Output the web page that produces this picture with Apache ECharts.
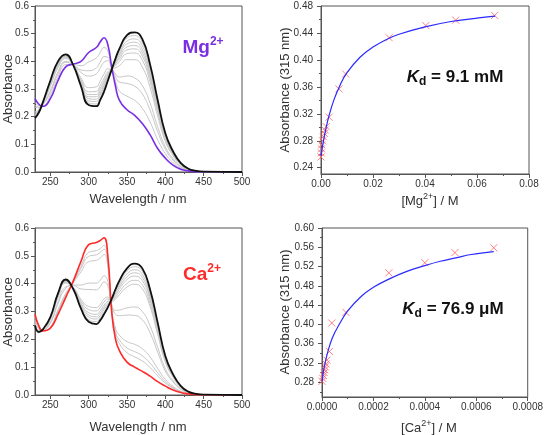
<!DOCTYPE html>
<html>
<head>
<meta charset="utf-8">
<script src="https://cdn.jsdelivr.net/npm/echarts@6/dist/echarts.min.js"></script>
<style>
  html, body { margin: 0; padding: 0; background: #fff; }
  #chart { width: 546px; height: 435px; }
</style>
</head>
<body>
<div id="chart"></div>
<script>
// ---- spectra (nm / absorbance) ----
const wavelengths = [230, 235, 240, 250, 260, 270, 280, 290, 300, 310, 315, 320, 325, 330, 335, 340, 350, 360, 370, 380, 390, 400, 410, 420, 430, 440, 450, 500]

const mgFree = [0.195, 0.215, 0.25, 0.33, 0.40, 0.425, 0.385, 0.31, 0.242, 0.238, 0.26, 0.29, 0.33, 0.37, 0.41, 0.445, 0.495, 0.505, 0.48, 0.39, 0.26, 0.14, 0.075, 0.033, 0.012, 0.004, 0.001, 0]
const mgBound = [0.265, 0.245, 0.237, 0.265, 0.33, 0.38, 0.39, 0.40, 0.432, 0.45, 0.47, 0.485, 0.46, 0.38, 0.31, 0.26, 0.225, 0.205, 0.175, 0.135, 0.085, 0.05, 0.025, 0.01, 0.004, 0.001, 0, 0]
const mgSteps = [
  [0.198, 0.216, 0.249, 0.327, 0.397, 0.423, 0.385, 0.314, 0.25, 0.246, 0.268, 0.298, 0.335, 0.37, 0.406, 0.438, 0.484, 0.493, 0.468, 0.38, 0.253, 0.136, 0.073, 0.032, 0.012, 0.004, 0.001, 0],
  [0.201, 0.217, 0.249, 0.325, 0.394, 0.421, 0.385, 0.317, 0.257, 0.255, 0.277, 0.306, 0.34, 0.371, 0.402, 0.43, 0.473, 0.481, 0.456, 0.37, 0.246, 0.133, 0.071, 0.031, 0.011, 0.004, 0.001, 0],
  [0.203, 0.219, 0.248, 0.322, 0.392, 0.42, 0.386, 0.321, 0.265, 0.263, 0.285, 0.313, 0.346, 0.371, 0.398, 0.423, 0.463, 0.469, 0.443, 0.359, 0.239, 0.129, 0.069, 0.03, 0.011, 0.004, 0.001, 0],
  [0.206, 0.22, 0.248, 0.32, 0.389, 0.418, 0.386, 0.324, 0.272, 0.272, 0.294, 0.321, 0.351, 0.372, 0.394, 0.415, 0.452, 0.457, 0.431, 0.349, 0.232, 0.126, 0.067, 0.029, 0.011, 0.004, 0.001, 0],
  [0.209, 0.221, 0.247, 0.317, 0.386, 0.416, 0.386, 0.328, 0.28, 0.28, 0.302, 0.329, 0.356, 0.372, 0.39, 0.408, 0.441, 0.445, 0.419, 0.339, 0.225, 0.122, 0.065, 0.028, 0.01, 0.003, 0.001, 0],
  [0.213, 0.223, 0.247, 0.314, 0.383, 0.414, 0.386, 0.333, 0.29, 0.291, 0.313, 0.339, 0.363, 0.373, 0.385, 0.399, 0.428, 0.43, 0.404, 0.326, 0.216, 0.118, 0.063, 0.027, 0.01, 0.003, 0.001, 0],
  [0.218, 0.225, 0.246, 0.309, 0.377, 0.41, 0.387, 0.34, 0.305, 0.308, 0.329, 0.354, 0.373, 0.373, 0.377, 0.384, 0.406, 0.406, 0.379, 0.306, 0.202, 0.11, 0.059, 0.025, 0.009, 0.003, 0.001, 0],
  [0.234, 0.232, 0.243, 0.294, 0.362, 0.40, 0.388, 0.36, 0.347, 0.355, 0.376, 0.397, 0.402, 0.376, 0.355, 0.343, 0.347, 0.34, 0.312, 0.25, 0.164, 0.091, 0.048, 0.02, 0.008, 0.002, 0, 0],
  [0.241, 0.235, 0.242, 0.288, 0.355, 0.396, 0.388, 0.369, 0.366, 0.376, 0.397, 0.417, 0.415, 0.377, 0.345, 0.325, 0.32, 0.31, 0.282, 0.224, 0.146, 0.082, 0.043, 0.018, 0.007, 0.002, 0, 0],
  [0.252, 0.24, 0.239, 0.277, 0.343, 0.388, 0.389, 0.384, 0.398, 0.412, 0.432, 0.45, 0.437, 0.378, 0.328, 0.293, 0.274, 0.259, 0.23, 0.181, 0.117, 0.066, 0.034, 0.014, 0.005, 0.001, 0, 0]
]

const caFree = [0.25, 0.226, 0.235, 0.28, 0.365, 0.415, 0.38, 0.31, 0.263, 0.255, 0.268, 0.29, 0.315, 0.345, 0.38, 0.41, 0.455, 0.472, 0.455, 0.38, 0.26, 0.14, 0.075, 0.033, 0.012, 0.004, 0.001, 0]
const caBound = [0.29, 0.248, 0.23, 0.24, 0.29, 0.35, 0.41, 0.48, 0.54, 0.548, 0.555, 0.565, 0.50, 0.30, 0.20, 0.16, 0.118, 0.10, 0.085, 0.068, 0.048, 0.032, 0.018, 0.009, 0.004, 0.001, 0, 0]
const caSteps = [
  [0.251, 0.227, 0.235, 0.279, 0.363, 0.413, 0.381, 0.315, 0.271, 0.264, 0.277, 0.298, 0.321, 0.344, 0.375, 0.403, 0.445, 0.461, 0.444, 0.371, 0.254, 0.137, 0.073, 0.032, 0.012, 0.004, 0.001, 0],
  [0.252, 0.228, 0.235, 0.277, 0.361, 0.411, 0.382, 0.32, 0.28, 0.273, 0.285, 0.307, 0.326, 0.342, 0.369, 0.395, 0.435, 0.45, 0.433, 0.361, 0.247, 0.134, 0.072, 0.032, 0.012, 0.004, 0.001, 0],
  [0.254, 0.229, 0.235, 0.276, 0.358, 0.409, 0.383, 0.325, 0.288, 0.281, 0.294, 0.315, 0.332, 0.341, 0.364, 0.388, 0.425, 0.439, 0.422, 0.352, 0.241, 0.13, 0.07, 0.031, 0.011, 0.004, 0.001, 0],
  [0.255, 0.229, 0.235, 0.275, 0.356, 0.407, 0.384, 0.33, 0.296, 0.29, 0.302, 0.323, 0.337, 0.34, 0.358, 0.38, 0.415, 0.427, 0.411, 0.343, 0.235, 0.127, 0.068, 0.03, 0.011, 0.004, 0.001, 0],
  [0.256, 0.231, 0.235, 0.273, 0.353, 0.405, 0.385, 0.337, 0.307, 0.302, 0.314, 0.334, 0.345, 0.338, 0.351, 0.37, 0.401, 0.412, 0.396, 0.33, 0.226, 0.123, 0.066, 0.029, 0.011, 0.004, 0.001, 0],
  [0.258, 0.232, 0.234, 0.271, 0.35, 0.402, 0.386, 0.344, 0.318, 0.314, 0.325, 0.345, 0.352, 0.336, 0.344, 0.36, 0.388, 0.398, 0.381, 0.318, 0.218, 0.118, 0.064, 0.028, 0.01, 0.003, 0.001, 0],
  [0.267, 0.238, 0.234, 0.261, 0.334, 0.388, 0.393, 0.381, 0.379, 0.378, 0.389, 0.406, 0.393, 0.326, 0.304, 0.305, 0.313, 0.316, 0.30, 0.249, 0.171, 0.095, 0.051, 0.023, 0.009, 0.003, 0.001, 0],
  [0.27, 0.241, 0.234, 0.258, 0.328, 0.383, 0.395, 0.395, 0.402, 0.402, 0.412, 0.428, 0.408, 0.323, 0.29, 0.285, 0.287, 0.286, 0.27, 0.224, 0.154, 0.086, 0.047, 0.021, 0.008, 0.003, 0.001, 0],
  [0.281, 0.249, 0.233, 0.245, 0.307, 0.364, 0.403, 0.443, 0.479, 0.484, 0.492, 0.505, 0.459, 0.31, 0.24, 0.215, 0.192, 0.182, 0.166, 0.137, 0.095, 0.056, 0.031, 0.014, 0.006, 0.002, 0, 0],
  [0.284, 0.251, 0.232, 0.242, 0.301, 0.36, 0.406, 0.455, 0.498, 0.504, 0.512, 0.524, 0.472, 0.307, 0.227, 0.198, 0.169, 0.156, 0.141, 0.115, 0.08, 0.048, 0.027, 0.013, 0.005, 0.001, 0, 0],
  [0.286, 0.252, 0.232, 0.24, 0.298, 0.357, 0.407, 0.463, 0.512, 0.519, 0.526, 0.538, 0.482, 0.305, 0.218, 0.185, 0.152, 0.137, 0.122, 0.099, 0.069, 0.043, 0.024, 0.011, 0.004, 0.001, 0, 0]
]

// ---- titrations (M / absorbance at 315 nm) ----
const mgConc = [0, 0.0001, 0.0002, 0.0003, 0.0006, 0.0009, 0.0013, 0.0016, 0.002, 0.0031, 0.0069, 0.0095, 0.0262, 0.0403, 0.0518, 0.0668]
const mgAbs = [0.256, 0.262, 0.268, 0.274, 0.28, 0.286, 0.291, 0.296, 0.301, 0.315, 0.357, 0.379, 0.433, 0.451, 0.459, 0.466]
const mgFitConc = [0, 0.001, 0.002, 0.003, 0.005, 0.0075, 0.01, 0.015, 0.02, 0.025, 0.03, 0.04, 0.05, 0.06, 0.067]
const mgFitAbs = [0.258, 0.281, 0.3, 0.316, 0.341, 0.364, 0.381, 0.404, 0.419, 0.43, 0.438, 0.449, 0.457, 0.462, 0.465]

const caConc = [0, 0.000003, 0.000006, 0.000009, 0.000011, 0.000013, 0.000016, 0.000019, 0.000029, 0.000038, 0.000093, 0.00026, 0.0004, 0.000517, 0.000668]
const caAbs = [0.282, 0.288, 0.294, 0.3, 0.306, 0.312, 0.318, 0.326, 0.344, 0.403, 0.425, 0.507, 0.528, 0.549, 0.559]
const caFitConc = [0, 0.000005, 0.00001, 0.00002, 0.00004, 0.00007, 0.0001, 0.00015, 0.0002, 0.00026, 0.00033, 0.0004, 0.00046, 0.00052, 0.00058, 0.000668]
const caFitAbs = [0.282, 0.3, 0.315, 0.338, 0.372, 0.403, 0.428, 0.457, 0.477, 0.494, 0.51, 0.522, 0.531, 0.538, 0.545, 0.551]

// ---- tick labels ----
const specXTicks = [250, 300, 350, 400, 450, 500]
const specXMinor = [275, 325, 375, 425, 475]
const mgYTicks = [0.24, 0.28, 0.32, 0.36, 0.40, 0.44, 0.48]
const mgYMinor = [0.26, 0.30, 0.34, 0.38, 0.42, 0.46]
const caYTicks = [0.28, 0.32, 0.36, 0.40, 0.44, 0.48, 0.52, 0.56, 0.60]
const caYMinor = [0.26, 0.30, 0.34, 0.38, 0.42, 0.46, 0.50, 0.54, 0.58]

const FONT = "'Liberation Sans', Arial, sans-serif"
const AXIS = '#555'
const TXT = '#333'

function pairs(xs, ys) {
  return xs.map((x, i) => [x, ys[i]])
}

function mainAxis(gridIndex, min, max, extra) {
  const ax = {
    type: 'value',
    gridIndex,
    min,
    max,
    axisLine: { show: true, onZero: false, lineStyle: { color: AXIS, width: 1 } },
    axisTick: { show: true, inside: false, length: 4, lineStyle: { color: AXIS } },
    minorTick: { show: false },
    axisLabel: { color: TXT, fontFamily: FONT, fontSize: 10, margin: extra.margin || 5 },
    splitLine: { show: false }
  }
  if (extra.interval) ax.interval = extra.interval
  if (extra.position) ax.position = extra.position
  if (extra.minor) ax.minorTick = { show: true, splitNumber: 2, length: 2, lineStyle: { color: AXIS } }
  if (extra.ticks) {
    ax.axisTick.customValues = extra.ticks
    ax.axisLabel.customValues = extra.ticks
  }
  ax.axisLabel.formatter = v => Number(v).toFixed(extra.digits)
  return ax
}

function minorAxis(gridIndex, min, max, values, position) {
  return {
    type: 'value',
    gridIndex,
    min,
    max,
    position,
    axisLine: { show: false },
    axisLabel: { show: false },
    splitLine: { show: false },
    axisTick: { show: true, inside: false, length: 2, customValues: values, lineStyle: { color: AXIS } }
  }
}

function spectrum(xi, yi, values, color, width, z) {
  return {
    type: 'line',
    xAxisIndex: xi,
    yAxisIndex: yi,
    data: pairs(wavelengths, values),
    showSymbol: false,
    smooth: 0.5,
    lineStyle: { color, width },
    z,
    silent: true
  }
}

const crossPath = 'path://M0,0L10,10M10,0L0,10'

function points(xi, yi, xs, ys) {
  return {
    type: 'scatter',
    xAxisIndex: xi,
    yAxisIndex: yi,
    data: pairs(xs, ys),
    symbol: crossPath,
    symbolSize: 7,
    itemStyle: { color: 'transparent', borderColor: '#ff6060', borderWidth: 1 },
    z: 3
  }
}

function fit(xi, yi, xs, ys) {
  return {
    type: 'line',
    xAxisIndex: xi,
    yAxisIndex: yi,
    data: pairs(xs, ys),
    showSymbol: false,
    smooth: 0.4,
    lineStyle: { color: '#2a2aff', width: 1.2 },
    z: 4
  }
}

const frame = { show: true, borderColor: AXIS, borderWidth: 1, backgroundColor: 'transparent', containLabel: false }

const series = []
mgSteps.forEach(s => series.push(spectrum(0, 0, s, '#c6c6c6', 1, 2)))
series.push(spectrum(0, 0, mgBound, '#7a2ee3', 1.6, 3))
series.push(spectrum(0, 0, mgFree, '#111111', 1.8, 4))
series.push(points(2, 1, mgConc, mgAbs))
series.push(fit(2, 1, mgFitConc, mgFitAbs))
caSteps.forEach(s => series.push(spectrum(3, 3, s, '#c6c6c6', 1, 2)))
series.push(spectrum(3, 3, caBound, '#ff2a2a', 1.6, 3))
series.push(spectrum(3, 3, caFree, '#111111', 1.8, 4))
series.push(points(5, 4, caConc, caAbs))
series.push(fit(5, 4, caFitConc, caFitAbs))

function txt(x, y, text, size, extra) {
  return Object.assign({
    type: 'text',
    x,
    y,
    style: {
      text,
      fontFamily: FONT,
      fontSize: size,
      fill: TXT,
      align: 'center',
      verticalAlign: 'middle'
    }
  }, extra || {})
}

function richTxt(x, y, text, rich, extra) {
  return Object.assign({
    type: 'text',
    x,
    y,
    style: { text, rich, align: 'center', verticalAlign: 'middle' }
  }, extra || {})
}

const ionRich = color => ({
  a: { fontFamily: FONT, fontSize: 19, fontWeight: 'bold', fill: color, lineHeight: 24 },
  s: { fontFamily: FONT, fontSize: 12, fontWeight: 'bold', fill: color, verticalAlign: 'top' }
})
const axRich = {
  a: { fontFamily: FONT, fontSize: 13, fill: TXT, lineHeight: 17 },
  s: { fontFamily: FONT, fontSize: 9, fill: TXT, verticalAlign: 'top' }
}
const kdRich = {
  k: { fontFamily: FONT, fontSize: 17, fontWeight: 'bold', fontStyle: 'italic', fill: '#111', lineHeight: 22 },
  d: { fontFamily: FONT, fontSize: 12, fontWeight: 'bold', fill: '#111', verticalAlign: 'bottom' },
  t: { fontFamily: FONT, fontSize: 17, fontWeight: 'bold', fill: '#111', lineHeight: 22 }
}

const graphics = [
  txt(8, 89, 'Absorbance', 13, { rotation: Math.PI / 2 }),
  txt(8, 312, 'Absorbance', 13, { rotation: Math.PI / 2 }),
  txt(285, 90, 'Absorbance (315 nm)', 13, { rotation: Math.PI / 2 }),
  txt(285, 312, 'Absorbance (315 nm)', 13, { rotation: Math.PI / 2 }),
  txt(138, 199, 'Wavelength / nm', 13),
  txt(138, 427, 'Wavelength / nm', 13),
  richTxt(430, 201, '{a|[Mg}{s|2+}{a|] / M}', axRich),
  richTxt(429, 428, '{a|[Ca}{s|2+}{a|] / M}', axRich),
  richTxt(203, 48, '{a|Mg}{s|2+}', ionRich('#7a2ee3')),
  richTxt(202, 275, '{a|Ca}{s|2+}', ionRich('#ff2a2a')),
  richTxt(455, 77, '{k|K}{d|d}{t| = 9.1 mM}', kdRich),
  richTxt(453, 309, '{k|K}{d|d}{t| = 76.9 μM}', kdRich)
]

const option = {
  animation: false,
  backgroundColor: '#fff',
  grid: [
    Object.assign({ left: 35, top: 6, width: 207, height: 166 }, frame),
    Object.assign({ left: 321, top: 6, width: 208, height: 168 }, frame),
    Object.assign({ left: 35, top: 228, width: 207, height: 167 }, frame),
    Object.assign({ left: 322, top: 228, width: 207, height: 169 }, frame)
  ],
  xAxis: [
    mainAxis(0, 230, 500, { ticks: specXTicks, digits: 0, position: 'bottom' }),
    minorAxis(0, 230, 500, specXMinor, 'bottom'),
    mainAxis(1, 0, 0.08, { interval: 0.02, minor: true, digits: 2, position: 'bottom' }),
    mainAxis(2, 230, 500, { ticks: specXTicks, digits: 0, position: 'bottom' }),
    minorAxis(2, 230, 500, specXMinor, 'bottom'),
    mainAxis(3, 0, 0.0008, { interval: 0.0002, minor: true, digits: 4, position: 'bottom' })
  ],
  yAxis: [
    mainAxis(0, 0, 0.6, { interval: 0.1, minor: true, digits: 1, position: 'left', margin: 6 }),
    mainAxis(1, 0.2307, 0.48, { ticks: mgYTicks, digits: 2, position: 'left', margin: 8 }),
    minorAxis(1, 0.2307, 0.48, mgYMinor, 'left'),
    mainAxis(2, 0, 0.6, { interval: 0.1, minor: true, digits: 1, position: 'left', margin: 6 }),
    mainAxis(3, 0.2495, 0.6, { ticks: caYTicks, digits: 2, position: 'left', margin: 8 }),
    minorAxis(3, 0.2495, 0.6, caYMinor, 'left')
  ],
  series,
  graphic: graphics
}

const chart = echarts.init(document.getElementById('chart'))
chart.setOption(option)
window.addEventListener('resize', () => chart.resize())
</script>
</body>
</html>
